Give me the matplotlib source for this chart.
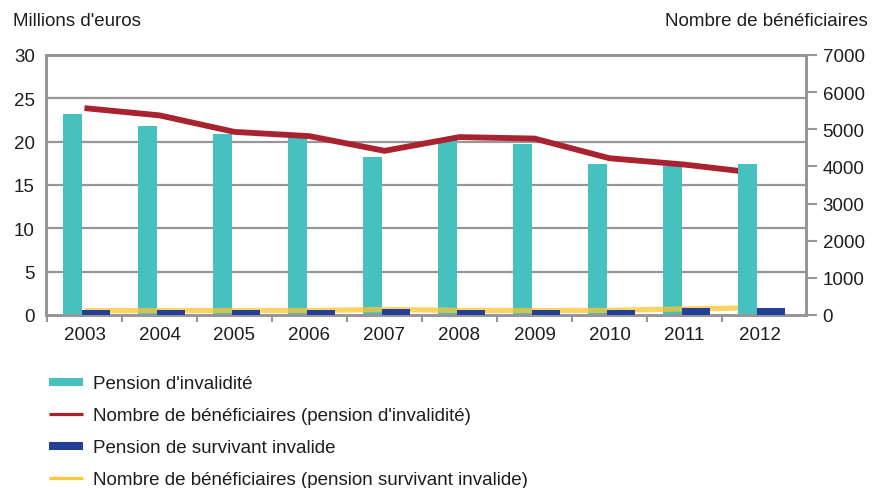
import numpy as np
import matplotlib.pyplot as plt
from matplotlib.lines import Line2D
from matplotlib.patches import Rectangle

plt.rcParams['font.family'] = ['Liberation Sans', 'DejaVu Sans']

# données
annees = ["2003", "2004", "2005", "2006", "2007", "2008", "2009", "2010", "2011", "2012"]
pension_invalidite = [23.2, 21.8, 20.9, 20.7, 18.2, 20.3, 19.7, 17.4, 17.2, 17.4]
pension_survivant = [0.55, 0.55, 0.55, 0.55, 0.65, 0.55, 0.55, 0.55, 0.85, 0.85]
benef_invalidite = [5570, 5375, 4930, 4815, 4420, 4790, 4750, 4220, 4050, 3815]
benef_survivant = [115, 120, 120, 120, 150, 125, 120, 125, 165, 195]

TEAL = "#47C1BF"
RED = "#A8232F"
NAVY = "#233F96"
YELLOW = "#FDC530"
GRIS = "#96969A"
TXT = "#1E1E1E"
FS = 13.5

x = np.arange(len(annees))
xlim = (-0.513, 9.62)

fig = plt.figure(figsize=(8.73, 4.89), dpi=100)
ax = fig.add_axes([46/873, 1-316/489, (806-46)/873, (316-56)/489])
ax2 = ax.twinx()   # bénéficiaires
ax3 = ax.twinx()   # barres navy au-dessus de la ligne jaune

# barres teal (axe gauche)
ax.bar(x - 0.16, pension_invalidite, width=0.253, color=TEAL, zorder=2)
ax.set_xlim(*xlim)
ax.set_ylim(0, 30)
ax.set_yticks(np.arange(0, 31, 5))
for v in range(5, 30, 5):
    ax.axhline(v, color=GRIS, lw=1.6, zorder=1)

# courbes (axe droit), coupées avant la dernière barre
ax2.set_xlim(*xlim)
ax2.set_ylim(0, 7000)
ax2.set_yticks(np.arange(0, 7001, 1000))
clip = Rectangle((xlim[0], 0), 8.713 - xlim[0], 7000, transform=ax2.transData)
l1, = ax2.plot(x, benef_survivant, color=YELLOW, lw=3.8, alpha=0.75,
               solid_capstyle="butt", zorder=3)
l2, = ax2.plot(x, benef_invalidite, color=RED, lw=4.2, solid_capstyle="butt",
               solid_joinstyle="miter", zorder=5)
for l in (l1, l2):
    l.set_clip_path(clip)

# barres navy (même échelle que l'axe gauche)
ax3.bar(x + 0.153, pension_survivant, width=0.373, color=NAVY)
ax3.set_xlim(*xlim)
ax3.set_ylim(0, 30)
ax3.axis("off")

ax2.set_zorder(ax.get_zorder() + 1)
ax3.set_zorder(ax.get_zorder() + 2)
ax2.patch.set_visible(False)
ax3.patch.set_visible(False)

# axes
for a in (ax, ax2):
    for s in a.spines.values():
        s.set_color(GRIS)
        s.set_linewidth(2)
ax.set_xticks(x)
ax.set_xticklabels(annees)
ax.set_xticks(np.arange(-0.5, 9, 1), minor=True)
ax.tick_params(axis="x", which="major", length=0, pad=8, labelsize=FS, colors=TXT)
ax.tick_params(axis="x", which="minor", length=5, width=1.5, color=GRIS)
ax.tick_params(axis="y", length=0, pad=8, labelsize=FS, colors=TXT)
ax2.tick_params(axis="y", length=8, width=1.5, color=GRIS, pad=4, labelsize=FS,
                labelcolor=TXT)

fig.text(13/873, 1-21/489, "Millions d'euros", fontsize=FS, color=TXT,
         va="center", ha="left")
fig.text(868/873, 1-21/489, "Nombre de bénéficiaires", fontsize=FS, color=TXT,
         va="center", ha="right")

# légende
handles = [
    Line2D([], [], color=TEAL, lw=5.8, solid_capstyle="butt"),
    Line2D([], [], color=RED, lw=2.3, solid_capstyle="butt"),
    Line2D([], [], color=NAVY, lw=5.8, solid_capstyle="butt"),
    Line2D([], [], color="#FDC93A", lw=2.3, solid_capstyle="butt"),
]
labels = [
    "Pension d'invalidité",
    "Nombre de bénéficiaires (pension d'invalidité)",
    "Pension de survivant invalide",
    "Nombre de bénéficiaires (pension survivant invalide)",
]
fig.legend(handles, labels, loc="upper left", bbox_to_anchor=(49/873, 1-376/489),
           frameon=False, fontsize=FS, handlelength=1.8, handletextpad=0.55,
           labelspacing=0.8, borderaxespad=0, borderpad=0, labelcolor=TXT)

fig.savefig("out.png", dpi=100)
